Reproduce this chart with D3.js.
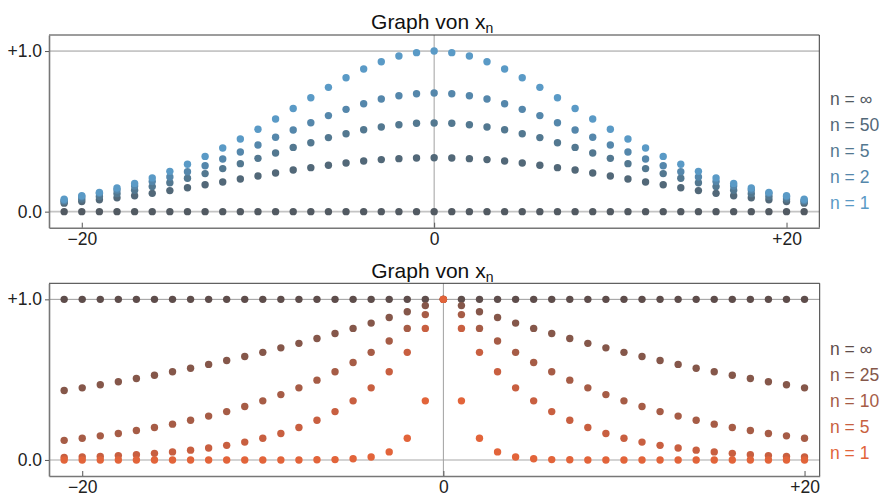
<!DOCTYPE html>
<html>
<head>
<meta charset="utf-8">
<script src="https://cdn.jsdelivr.net/npm/d3@7"></script>
<style>
  html, body { margin: 0; padding: 0; background: #fff; }
  svg { display: block; font-family: "Liberation Sans", Arial, Helvetica, sans-serif; }
</style>
</head>
<body>
<svg id="chart" width="881" height="497"></svg>
<script>
// ---------- DATA ----------
const xTop = d3.range(-21, 22);      // x = -21 ... 21
const xBottom = d3.range(-21, 21);   // x = -21 ... 20

const topLabels = ["n = \u221E", "n = 50", "n = 5", "n = 2", "n = 1"];
const topColors = ["#525a62", "#526878", "#537890", "#5587ab", "#5a9ac6"];

const topInf = [0,0,0,0,0,0,0,0,0,0,0,0,0,0,0,0,0,0,0,0,0,0,0,0,0,0,0,0,0,0,0,0,0,0,0,0,0,0,0,0,0,0,0];
const top50 = [0.053,0.063,0.074,0.086,0.099,0.114,0.131,0.149,0.167,0.185,0.203,0.222,0.241,0.259,0.274,0.289,0.303,0.315,0.324,0.330,0.334,0.336,0.334,0.330,0.324,0.315,0.303,0.289,0.274,0.259,0.241,0.222,0.203,0.185,0.167,0.149,0.131,0.114,0.099,0.086,0.074,0.063,0.053];
const top5 = [0.063,0.078,0.094,0.112,0.133,0.156,0.180,0.208,0.237,0.268,0.299,0.332,0.365,0.400,0.429,0.461,0.485,0.510,0.527,0.541,0.550,0.552,0.550,0.541,0.527,0.510,0.485,0.461,0.429,0.400,0.365,0.332,0.299,0.268,0.237,0.208,0.180,0.156,0.133,0.112,0.094,0.078,0.063];
const top2 = [0.070,0.093,0.114,0.135,0.160,0.187,0.216,0.249,0.286,0.328,0.371,0.415,0.463,0.508,0.554,0.598,0.637,0.672,0.701,0.722,0.734,0.739,0.734,0.722,0.701,0.672,0.637,0.598,0.554,0.508,0.463,0.415,0.371,0.328,0.286,0.249,0.216,0.187,0.160,0.135,0.114,0.093,0.070];
const top1 = [0.077,0.099,0.120,0.147,0.176,0.210,0.251,0.295,0.344,0.396,0.452,0.513,0.577,0.642,0.709,0.774,0.834,0.888,0.933,0.969,0.990,1.000,0.990,0.969,0.933,0.888,0.834,0.774,0.709,0.642,0.577,0.513,0.452,0.396,0.344,0.295,0.251,0.210,0.176,0.147,0.120,0.099,0.077];

const bottomLabels = ["n = \u221E", "n = 25", "n = 10", "n = 5", "n = 1"];
const bottomColors = ["#5e4d4b", "#85574a", "#a65c46", "#c85f40", "#e2643a"];

const botInf = [1,1,1,1,1,1,1,1,1,1,1,1,1,1,1,1,1,1,1,1,1,1,1,1,1,1,1,1,1,1,1,1,1,1,1,1,1,1,1,1,1,1];
const bot25 = [0.432,0.449,0.468,0.487,0.507,0.527,0.549,0.571,0.595,0.619,0.644,0.670,0.698,0.726,0.756,0.787,0.819,0.852,0.887,0.923,0.961,1.000,0.961,0.923,0.887,0.852,0.819,0.787,0.756,0.726,0.698,0.670,0.644,0.619,0.595,0.571,0.549,0.527,0.507,0.487,0.468,0.449];
const bot10 = [0.122,0.135,0.150,0.165,0.183,0.202,0.223,0.247,0.273,0.301,0.333,0.368,0.407,0.449,0.497,0.549,0.607,0.670,0.741,0.819,0.905,1.000,0.905,0.819,0.741,0.670,0.607,0.549,0.497,0.449,0.407,0.368,0.333,0.301,0.273,0.247,0.223,0.202,0.183,0.165,0.150,0.135];
const bot5 = [0.015,0.018,0.022,0.027,0.033,0.041,0.050,0.061,0.074,0.091,0.111,0.135,0.165,0.202,0.247,0.301,0.368,0.449,0.549,0.670,0.819,1.000,0.819,0.670,0.549,0.449,0.368,0.301,0.247,0.202,0.165,0.135,0.111,0.091,0.074,0.061,0.050,0.041,0.033,0.027,0.022,0.018];
const bot1 = [0,0,0,0,0,0,0,0,0,0,0,0,0,0,0.001,0.002,0.007,0.018,0.050,0.135,0.368,1.000,0.368,0.135,0.050,0.018,0.007,0.002,0.001,0,0,0,0,0,0,0,0,0,0,0,0,0];

const xTickValues = [-20, 0, 20];
const xTickLabels = ["\u221220", "0", "+20"];
const yTickValues = [0, 1];
const yTickLabels = ["0.0", "+1.0"];
const titleMain = "Graph von x";
const titleSub = "n";

// ---------- DRAW ----------
const svg = d3.select("#chart");

function panel(opts) {
  const { left, right, top, bottom, xDomain, xs, series, colors, labels, titleY, legendY0 } = opts;
  const x = d3.scaleLinear().domain(xDomain).range([left, right]);
  const y = d3.scaleLinear().domain([-0.1, 1.1]).range([bottom, top]);
  const g = svg.append("g");

  // grid lines
  g.append("line").attr("x1", left).attr("x2", right)
    .attr("y1", y(1)).attr("y2", y(1)).attr("stroke", "#9a9a9a").attr("stroke-width", 1);
  g.append("line").attr("x1", left).attr("x2", right)
    .attr("y1", y(0)).attr("y2", y(0)).attr("stroke", "#c4c4c4").attr("stroke-width", 1.6);
  g.append("line").attr("x1", x(0)).attr("x2", x(0))
    .attr("y1", top).attr("y2", bottom).attr("stroke", "#a0a0a0").attr("stroke-width", 1);

  // frame
  g.append("line").attr("x1", left).attr("x2", right).attr("y1", top).attr("y2", top)
    .attr("stroke", "#3a3a3a").attr("stroke-width", 1);
  g.append("line").attr("x1", right).attr("x2", right).attr("y1", top).attr("y2", bottom)
    .attr("stroke", "#3a3a3a").attr("stroke-width", 1);

  // axes
  const xAxis = d3.axisBottom(x).tickValues(xTickValues)
    .tickFormat((d, i) => xTickLabels[i]).tickSizeInner(-5).tickSizeOuter(0).tickPadding(5);
  const gx = g.append("g").attr("transform", `translate(0,${bottom})`).call(xAxis);
  gx.select(".domain").attr("stroke", "#777").attr("stroke-width", 1.6);
  gx.selectAll(".tick line").attr("stroke", "#555");
  gx.selectAll(".tick text").attr("font-size", 17.5).attr("fill", "#222")
    .attr("font-family", '"Liberation Sans", Arial, sans-serif');

  const yAxis = d3.axisLeft(y).tickValues(yTickValues)
    .tickFormat((d, i) => yTickLabels[i]).tickSizeInner(4).tickSizeOuter(0).tickPadding(3);
  const gy = g.append("g").attr("transform", `translate(${left},0)`).call(yAxis);
  gy.select(".domain").attr("stroke", "#777").attr("stroke-width", 1.6);
  gy.selectAll(".tick line").attr("stroke", "#555");
  gy.selectAll(".tick text").attr("font-size", 17.5).attr("fill", "#222")
    .attr("font-family", '"Liberation Sans", Arial, sans-serif');

  // points (first series drawn first, last on top)
  series.forEach((vals, si) => {
    g.append("g").selectAll("circle")
      .data(vals.map((v, i) => [xs[i], v]))
      .join("circle")
      .attr("cx", d => x(d[0]))
      .attr("cy", d => y(d[1]))
      .attr("r", 3.7)
      .attr("fill", colors[si]);
  });

  // title
  const t = g.append("text").attr("x", (left + right) / 2 - 2).attr("y", titleY)
    .attr("text-anchor", "middle").attr("font-size", 21).attr("fill", "#111");
  t.append("tspan").text(titleMain);
  t.append("tspan").attr("font-size", 14).attr("dy", 4).text(titleSub);

  // legend
  labels.forEach((lab, i) => {
    g.append("text").attr("x", 830).attr("y", legendY0 + i * 26)
      .attr("font-size", 17.5).attr("fill", colors[i]).text(lab);
  });
}

panel({
  left: 49, right: 819.3, top: 35, bottom: 227.7,
  xDomain: [-21.86, 21.86], xs: xTop,
  series: [topInf, top50, top5, top2, top1],
  colors: topColors, labels: topLabels, titleY: 28.5, legendY0: 105
});

panel({
  left: 49, right: 819.7, top: 283.3, bottom: 476,
  xDomain: [-21.84, 20.84], xs: xBottom,
  series: [botInf, bot25, bot10, bot5, bot1],
  colors: bottomColors, labels: bottomLabels, titleY: 278.3, legendY0: 354.5
});
</script>
</body>
</html>
